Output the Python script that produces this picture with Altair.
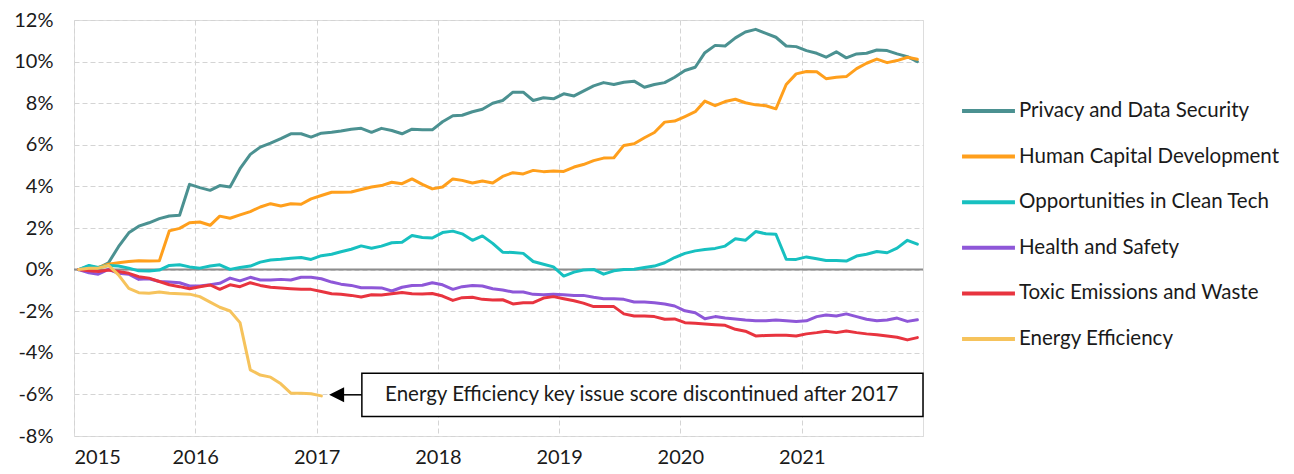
import altair as alt
import pandas as pd

# ---------------- data (monthly, Jan 2015 - Dec 2021, in %) ----------------
series_names = [
    "Privacy and Data Security",
    "Human Capital Development",
    "Opportunities in Clean Tech",
    "Health and Safety",
    "Toxic Emissions and Waste",
    "Energy Efficiency",
]
colors = ["#4B9191", "#FF9F1C", "#17C0C0", "#8E57D8", "#E8343F", "#F6C35C"]

privacy = [0.0, 0.17, 0.07, 0.33, 1.1, 1.77, 2.09, 2.25, 2.45, 2.58, 2.61, 4.1,
           3.94, 3.81, 4.04, 3.97, 4.85, 5.54, 5.89, 6.08, 6.3, 6.53, 6.53, 6.37,
           6.56, 6.6, 6.66, 6.75, 6.79, 6.6, 6.79, 6.69, 6.53, 6.75, 6.72, 6.72,
           7.11, 7.4, 7.42, 7.59, 7.71, 8.0, 8.13, 8.53, 8.53, 8.13, 8.26, 8.21,
           8.45, 8.35, 8.58, 8.83, 8.99, 8.9, 9.01, 9.06, 8.77, 8.9, 8.99, 9.25,
           9.57, 9.73, 10.43, 10.78, 10.75, 11.14, 11.42, 11.55, 11.36, 11.17, 10.75, 10.72,
           10.53, 10.4, 10.21, 10.47, 10.18, 10.37, 10.4, 10.56, 10.53, 10.37, 10.24, 10.0]
human_capital = [0.0, 0.05, 0.1, 0.26, 0.33, 0.39, 0.42, 0.41, 0.42, 1.86, 1.98, 2.25,
                 2.29, 2.13, 2.57, 2.47, 2.63, 2.79, 3.01, 3.17, 3.06, 3.17, 3.14, 3.4,
                 3.56, 3.72, 3.72, 3.73, 3.85, 3.97, 4.04, 4.2, 4.13, 4.36, 4.1, 3.88,
                 3.97, 4.36, 4.29, 4.16, 4.26, 4.16, 4.48, 4.66, 4.6, 4.77, 4.71, 4.74,
                 4.72, 4.93, 5.05, 5.24, 5.36, 5.38, 5.97, 6.05, 6.34, 6.59, 7.09, 7.14,
                 7.36, 7.59, 8.1, 7.88, 8.08, 8.19, 8.02, 7.92, 7.88, 7.73, 8.9, 9.41,
                 9.52, 9.51, 9.18, 9.25, 9.28, 9.66, 9.92, 10.12, 9.95, 10.05, 10.21, 10.11]
clean_tech = [0.0, 0.2, 0.1, 0.2, 0.17, 0.07, -0.06, -0.07, -0.02, 0.2, 0.23, 0.13,
              0.07, 0.17, 0.23, 0.01, 0.1, 0.17, 0.36, 0.46, 0.5, 0.55, 0.58, 0.49,
              0.67, 0.74, 0.86, 0.98, 1.14, 1.03, 1.13, 1.29, 1.32, 1.64, 1.54, 1.52,
              1.78, 1.85, 1.72, 1.41, 1.62, 1.26, 0.84, 0.82, 0.78, 0.39, 0.26, 0.13,
              -0.31, -0.12, -0.02, 0.01, -0.22, -0.06, 0.01, 0.02, 0.1, 0.17, 0.33, 0.58,
              0.78, 0.9, 0.97, 1.02, 1.13, 1.48, 1.41, 1.83, 1.72, 1.7, 0.5, 0.49,
              0.61, 0.52, 0.44, 0.44, 0.41, 0.65, 0.74, 0.87, 0.81, 1.03, 1.41, 1.22]
health_safety = [0.0, -0.15, -0.22, 0.01, -0.18, -0.22, -0.47, -0.44, -0.57, -0.6, -0.63, -0.79,
                 -0.79, -0.73, -0.66, -0.41, -0.54, -0.37, -0.5, -0.5, -0.47, -0.5, -0.37, -0.37,
                 -0.44, -0.6, -0.7, -0.76, -0.87, -0.87, -0.88, -1.03, -0.85, -0.76, -0.75, -0.63,
                 -0.73, -0.95, -0.82, -0.76, -0.79, -0.92, -0.98, -1.08, -1.08, -1.19, -1.21, -1.19,
                 -1.21, -1.24, -1.24, -1.33, -1.4, -1.4, -1.43, -1.56, -1.56, -1.59, -1.65, -1.75,
                 -1.98, -2.07, -2.36, -2.26, -2.33, -2.37, -2.42, -2.46, -2.46, -2.42, -2.46, -2.49,
                 -2.46, -2.26, -2.18, -2.23, -2.13, -2.26, -2.39, -2.46, -2.42, -2.33, -2.49, -2.41]
toxic = [0.0, -0.06, -0.09, -0.02, -0.09, -0.18, -0.34, -0.41, -0.57, -0.73, -0.82, -0.92,
         -0.82, -0.74, -0.95, -0.73, -0.82, -0.63, -0.76, -0.85, -0.89, -0.92, -0.95, -0.95,
         -1.05, -1.16, -1.19, -1.24, -1.32, -1.21, -1.22, -1.16, -1.1, -1.16, -1.17, -1.15,
         -1.27, -1.48, -1.35, -1.33, -1.43, -1.46, -1.45, -1.65, -1.59, -1.59, -1.37, -1.3,
         -1.4, -1.5, -1.61, -1.78, -1.78, -1.78, -2.13, -2.23, -2.23, -2.26, -2.39, -2.37,
         -2.55, -2.58, -2.61, -2.65, -2.68, -2.87, -2.96, -3.19, -3.17, -3.16, -3.16, -3.19,
         -3.09, -3.03, -2.96, -3.03, -2.95, -3.03, -3.09, -3.13, -3.19, -3.25, -3.38, -3.27]
energy = [0.0, 0.07, 0.07, 0.2, -0.25, -0.9, -1.11, -1.14, -1.08, -1.14, -1.16, -1.18,
          -1.3, -1.56, -1.81, -1.99, -2.55, -4.82, -5.07, -5.17, -5.49, -5.94, -5.94, -5.97,
          -6.07]

series_values = [privacy, human_capital, clean_tech, health_safety, toxic, energy]
year_ticks = [2015, 2016, 2017, 2018, 2019, 2020, 2021]
y_ticks = [-8, -6, -4, -2, 0, 2, 4, 6, 8, 10, 12]
note_text = "Energy Efficiency key issue score discontinued after 2017"

months = pd.date_range("2015-01-01", periods=84, freq="MS") + pd.Timedelta(days=14)

rows = []
for name, vals in zip(series_names, series_values):
    for d, v in zip(months, vals):
        rows.append({"date": d.strftime("%Y-%m-%d"), "series": name, "value": v})
df = pd.DataFrame(rows)

FONT = "Lato"
TXT = "#1a1a1a"

x_scale = alt.Scale(domain=["2015-01-01T00:00:00", "2022-01-01T00:00:00"], nice=False)
y_scale = alt.Scale(domain=[-8, 12], nice=False)

x_enc = alt.X(
    "date:T",
    scale=x_scale,
    title=None,
    axis=alt.Axis(
        values=[alt.DateTime(year=y, month=1, date=1) for y in year_ticks],
        format="%Y",
        grid=True,
        gridDash=[5, 3],
        gridColor="#d4d4d4",
        domain=False,
        ticks=False,
        labelPadding=11,
        labelFont=FONT,
        labelFontSize=20,
        labelColor=TXT,
    ),
)
y_enc = alt.Y(
    "value:Q",
    scale=y_scale,
    title=None,
    axis=alt.Axis(
        values=y_ticks,
        labelExpr="datum.value + '%'",
        grid=True,
        gridDash=[5, 3],
        gridColor="#d4d4d4",
        domain=False,
        ticks=False,
        labelPadding=21,
        labelFont=FONT,
        labelFontSize=20,
        labelColor=TXT,
        minExtent=60,
        maxExtent=60,
    ),
)

zero = alt.Chart(pd.DataFrame({"v": [0]})).mark_rule(color="#8c8c8c", strokeWidth=2).encode(
    y=alt.Y("v:Q", scale=y_scale)
)

lines = alt.Chart(df).mark_line(strokeWidth=3, strokeJoin="round", strokeCap="round").encode(
    x=x_enc,
    y=y_enc,
    color=alt.Color(
        "series:N",
        scale=alt.Scale(domain=series_names, range=colors),
        legend=alt.Legend(
            title=None,
            orient="none",
            legendX=886,
            legendY=81,
            symbolType="stroke",
            symbolSize=2800,
            symbolStrokeWidth=4,
            clipHeight=20,
            rowPadding=24.6,
            labelOffset=2,
            labelFont=FONT,
            labelFontSize=20.5,
            labelColor=TXT,
            labelLimit=400,
        ),
    ),
)

# annotation (positions in data units)
box_df = pd.DataFrame({"x": ["2017-05-17"], "x2": ["2022-01-01"], "y": [-4.98], "y2": [-7.06]})
box = alt.Chart(box_df).mark_rect(fill="white", stroke="black", strokeWidth=1.5).encode(
    x=alt.X("x:T", scale=x_scale), x2="x2:T",
    y=alt.Y("y:Q", scale=y_scale), y2="y2:Q",
)
txt_df = pd.DataFrame({"x": ["2019-09-07"], "y": [-6.02], "t": [note_text]})
txt = alt.Chart(txt_df).mark_text(font=FONT, fontSize=20.5, color=TXT, align="center", baseline="middle").encode(
    x=alt.X("x:T", scale=x_scale), y=alt.Y("y:Q", scale=y_scale), text="t:N"
)
arrow_df = pd.DataFrame({"x": ["2017-03-10"], "x2": ["2017-05-17"], "y": [-6.02]})
arrow_line = alt.Chart(arrow_df).mark_rule(color="black", strokeWidth=1.5).encode(
    x=alt.X("x:T", scale=x_scale), x2="x2:T", y=alt.Y("y:Q", scale=y_scale)
)
head_df = pd.DataFrame({"x": ["2017-03-02"], "y": [-6.02]})
arrow_head = alt.Chart(head_df).mark_point(
    shape="M -1 0 L 1 -1 L 1 1 Z", filled=True, fill="black", stroke="black", strokeWidth=0, opacity=1, size=225
).encode(x=alt.X("x:T", scale=x_scale), y=alt.Y("y:Q", scale=y_scale))

chart = alt.layer(zero, lines, box, txt, arrow_line, arrow_head).properties(
    width=849,
    height=416,
    padding={"left": 5, "top": 2, "right": 5, "bottom": 5},
).configure_view(
    stroke="#d4d4d4", strokeDash=[5, 3], strokeWidth=1
).configure(background="white")

chart.save("out.html", embed_options={"renderer": "svg", "actions": False})
